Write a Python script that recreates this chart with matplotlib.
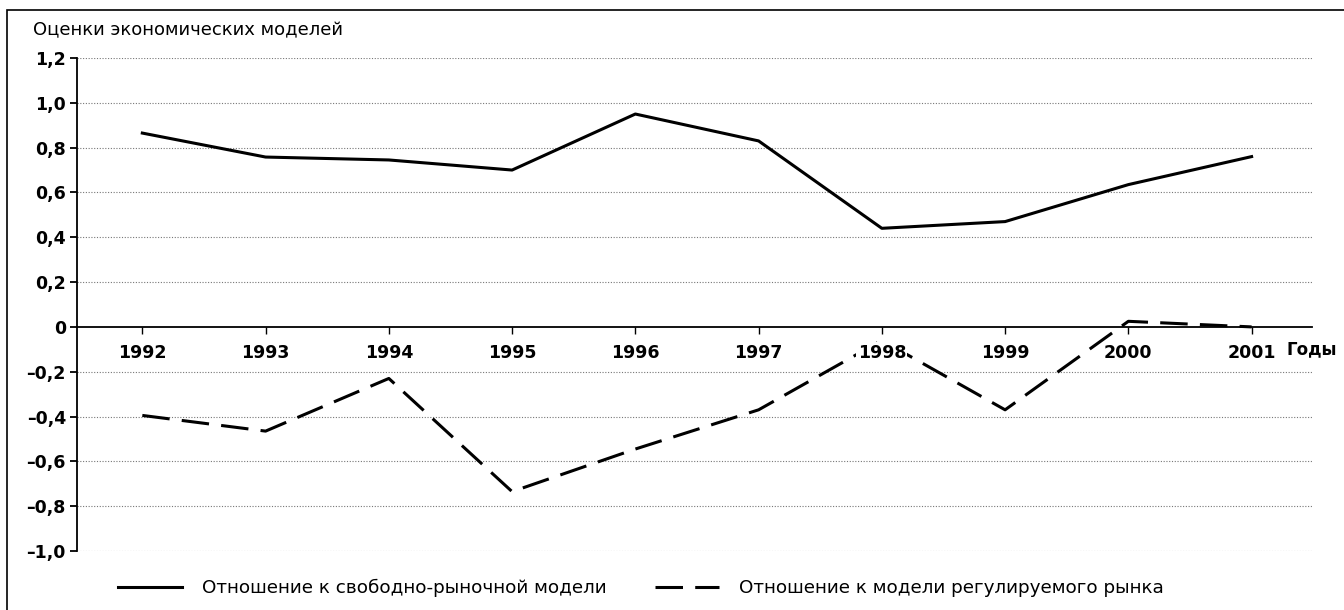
import matplotlib
matplotlib.use("Agg")
import matplotlib.pyplot as plt
import matplotlib.transforms as mtransforms
from matplotlib.lines import Line2D
from matplotlib.patches import Rectangle

plt.rcParams['font.family'] = ['DejaVu Sans']

# Данные
years = [1992, 1993, 1994, 1995, 1996, 1997, 1998, 1999, 2000, 2001]
free_market = [0.865, 0.758, 0.745, 0.70, 0.95, 0.83, 0.44, 0.47, 0.635, 0.76]
regulated = [-0.395, -0.465, -0.23, -0.735, -0.545, -0.37, -0.06, -0.37, 0.025, 0.0]

y_ticks = [1.2, 1.0, 0.8, 0.6, 0.4, 0.2, 0, -0.2, -0.4, -0.6, -0.8, -1.0]
y_labels = ["1,2", "1,0", "0,8", "0,6", "0,4", "0,2", "0",
            "–0,2", "–0,4", "–0,6", "–0,8", "–1,0"]

title = "Оценки экономических моделей"
x_unit = "Годы"
label_free = "Отношение к свободно-рыночной модели"
label_reg = "Отношение к модели регулируемого рынка"

W, H = 1344, 610
LW = 2.2
DASH = (9, 4)


def main():
    fig = plt.figure(figsize=(W / 100, H / 100), dpi=100)
    ax = fig.add_axes([77 / W, 1 - 551 / H, 1235 / W, 493 / H])

    ax.set_xlim(1991.47, 2001.49)
    ax.set_ylim(-1.0, 1.2)

    # пунктирная сетка
    for v in y_ticks:
        if v != 0:
            ax.axhline(v, color="#777777", lw=0.8, ls=(0, (1, 1.5)), zorder=1)

    ax.plot(years, free_market, color="black", lw=LW, zorder=3)
    ax.plot(years, regulated, color="black", lw=LW, zorder=3,
            dashes=DASH, dash_capstyle="butt", clip_on=False)

    for s in ("top", "right"):
        ax.spines[s].set_visible(False)
    ax.spines["bottom"].set_position(("data", 0))
    ax.spines["left"].set_linewidth(1.3)
    ax.spines["bottom"].set_linewidth(1.3)

    ax.set_yticks(y_ticks)
    ax.set_yticklabels(y_labels)
    ax.set_xticks(years)
    ax.set_xticklabels([str(y) for y in years])
    ax.tick_params(axis="y", length=5, width=1.3, pad=3, labelsize=12.5)
    ax.tick_params(axis="x", length=5, width=1.0, pad=7, labelsize=12.5)
    for t in ax.get_yticklabels() + ax.get_xticklabels():
        t.set_fontweight("bold")
    # подписи лет перекрывают пунктирную линию, как в оригинале
    plt.setp(ax.get_xticklabels(),
             bbox=dict(fc="white", ec="none", pad=1.0))
    ax.xaxis.set_zorder(5)

    trans = mtransforms.blended_transform_factory(ax.transAxes, ax.transData)
    ax.annotate(x_unit, xy=((1287 - 77) / 1235, 0), xycoords=trans,
                xytext=(0, -22), textcoords="offset pixels",
                fontsize=12, fontweight="bold", ha="left", va="center",
                annotation_clip=False)

    fig.text(33 / W, 1 - 30 / H, title, fontsize=13,
             ha="left", va="center")

    handles = [Line2D([], [], color="black", lw=LW),
               Line2D([], [], color="black", lw=LW, dashes=DASH)]
    fig.legend(handles, [label_free, label_reg], ncol=2, frameon=False,
               loc="center left", bbox_to_anchor=(118 / W, 1 - 588 / H),
               borderpad=0, borderaxespad=0,
               fontsize=13.2, handlelength=3.5, handletextpad=1.1,
               columnspacing=2.6)

    # рамка вокруг рисунка
    fig.add_artist(Rectangle((7 / W, -0.1), 1.2, 1.1 - 10 / H,
                             transform=fig.transFigure, fill=False,
                             ec="black", lw=1.2))

    fig.savefig("out.png", dpi=100)


if __name__ == "__main__":
    main()
